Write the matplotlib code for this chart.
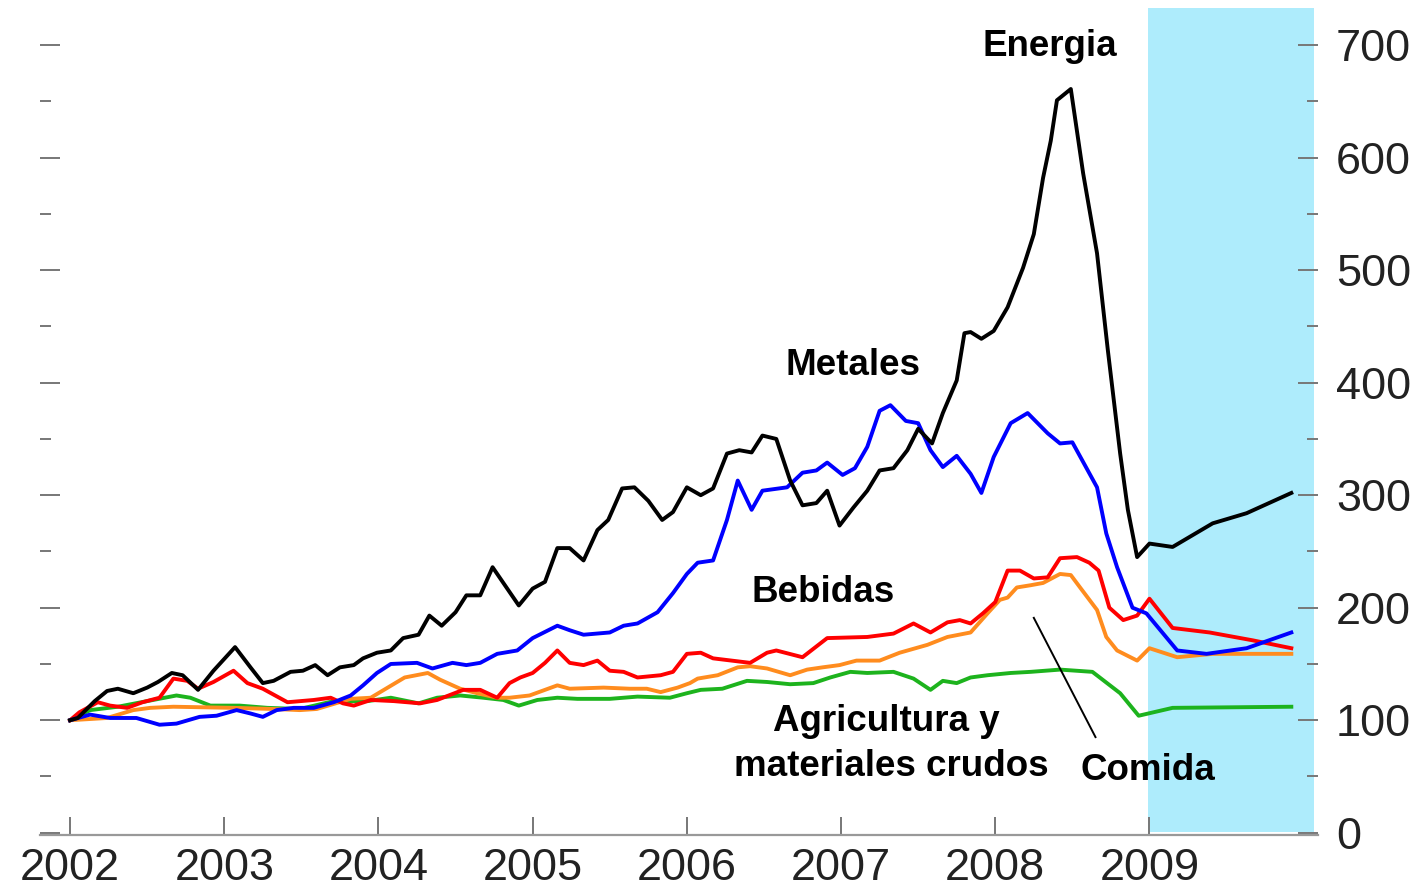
import numpy as np
import matplotlib
matplotlib.use("Agg")
import matplotlib.pyplot as plt
from matplotlib.ticker import MultipleLocator

# Indices de precios de materias primas (2002 = 100)
energia_t = [2002.00, 2002.05, 2002.16, 2002.24, 2002.31, 2002.41, 2002.50, 2002.57, 2002.66, 2002.73,
             2002.83, 2002.93, 2003.07, 2003.17, 2003.25, 2003.32, 2003.43, 2003.51, 2003.59, 2003.67,
             2003.75, 2003.84, 2003.90, 2003.99, 2004.08, 2004.16, 2004.26, 2004.33, 2004.41, 2004.50,
             2004.57, 2004.66, 2004.74, 2004.83, 2004.91, 2005.00, 2005.08, 2005.16, 2005.24, 2005.33,
             2005.42, 2005.49, 2005.58, 2005.66, 2005.75, 2005.84, 2005.91, 2006.00, 2006.09, 2006.17,
             2006.26, 2006.34, 2006.42, 2006.49, 2006.58, 2006.67, 2006.75, 2006.84, 2006.91, 2006.99,
             2007.08, 2007.17, 2007.25, 2007.34, 2007.43, 2007.50, 2007.59, 2007.66, 2007.75, 2007.80,
             2007.84, 2007.91, 2007.99, 2008.08, 2008.18, 2008.25, 2008.31, 2008.36, 2008.40, 2008.49,
             2008.57, 2008.66, 2008.73, 2008.81, 2008.86, 2008.92, 2009.00, 2009.15, 2009.41, 2009.63,
             2009.92]
energia_v = [100, 102, 117, 126, 128, 124, 129, 134, 142, 140,
             127, 144, 165, 147, 133, 135, 143, 144, 149, 140,
             147, 149, 155, 160, 162, 173, 176, 193, 184, 196,
             211, 211, 236, 218, 202, 217, 223, 253, 253, 242,
             269, 278, 306, 307, 295, 278, 285, 307, 300, 306,
             337, 340, 338, 353, 350, 313, 291, 293, 304, 273,
             289, 304, 322, 324, 340, 359, 346, 373, 402, 444,
             445, 439, 446, 467, 502, 532, 582, 615, 651, 661,
             586, 515, 429, 337, 287, 245, 257, 254, 275, 284,
             302]

metales_t = [2002.00, 2002.13, 2002.26, 2002.43, 2002.58, 2002.69, 2002.84, 2002.95, 2003.08, 2003.17,
             2003.25, 2003.34, 2003.45, 2003.58, 2003.71, 2003.82, 2003.90, 2003.99, 2004.08, 2004.25,
             2004.35, 2004.48, 2004.57, 2004.66, 2004.77, 2004.90, 2005.00, 2005.16, 2005.24, 2005.33,
             2005.50, 2005.59, 2005.68, 2005.81, 2005.91, 2006.00, 2006.07, 2006.17, 2006.26, 2006.33,
             2006.42, 2006.49, 2006.65, 2006.75, 2006.84, 2006.91, 2007.01, 2007.09, 2007.17, 2007.25,
             2007.32, 2007.42, 2007.50, 2007.58, 2007.66, 2007.75, 2007.84, 2007.91, 2007.99, 2008.10,
             2008.21, 2008.34, 2008.42, 2008.50, 2008.66, 2008.72, 2008.79, 2008.89, 2008.98, 2009.18,
             2009.37, 2009.63, 2009.92]
metales_v = [100, 105, 102, 102, 96, 97, 103, 104, 109, 106,
             103, 109, 111, 111, 116, 122, 131, 142, 150, 151,
             146, 151, 149, 151, 159, 162, 173, 184, 180, 176,
             178, 184, 186, 196, 213, 230, 240, 242, 278, 313,
             287, 304, 307, 320, 322, 329, 318, 324, 343, 375,
             380, 366, 364, 340, 325, 335, 319, 302, 334, 364,
             373, 355, 346, 347, 307, 266, 236, 200, 195, 162,
             159, 164, 178]

bebidas_t = [2002.00, 2002.06, 2002.18, 2002.26, 2002.37, 2002.47, 2002.58, 2002.67, 2002.76, 2002.83,
             2002.93, 2003.06, 2003.15, 2003.25, 2003.41, 2003.58, 2003.69, 2003.77, 2003.84, 2003.95,
             2004.10, 2004.27, 2004.38, 2004.55, 2004.66, 2004.77, 2004.85, 2004.92, 2005.00, 2005.08,
             2005.16, 2005.24, 2005.33, 2005.42, 2005.50, 2005.59, 2005.68, 2005.83, 2005.91, 2006.00,
             2006.09, 2006.17, 2006.41, 2006.52, 2006.58, 2006.75, 2006.91, 2007.17, 2007.34, 2007.47,
             2007.58, 2007.69, 2007.77, 2007.84, 2007.92, 2008.00, 2008.08, 2008.16, 2008.25, 2008.34,
             2008.42, 2008.53, 2008.61, 2008.67, 2008.74, 2008.83, 2008.92, 2009.00, 2009.15, 2009.39,
             2009.67, 2009.92]
bebidas_v = [100, 107, 116, 113, 111, 116, 120, 137, 135, 128,
             134, 144, 133, 128, 116, 118, 120, 115, 113, 118,
             117, 115, 118, 127, 127, 120, 133, 138, 142, 151,
             162, 151, 149, 153, 144, 143, 138, 140, 143, 159,
             160, 155, 151, 160, 162, 156, 173, 174, 177, 186,
             178, 187, 189, 186, 195, 205, 233, 233, 226, 227,
             244, 245, 240, 233, 200, 189, 193, 208, 182, 178,
             171, 164]

comida_t = [2002.00, 2002.24, 2002.41, 2002.52, 2002.67, 2003.06, 2003.32, 2003.49, 2003.60, 2003.82,
            2003.95, 2004.06, 2004.17, 2004.32, 2004.40, 2004.53, 2004.64, 2004.77, 2004.85, 2004.98,
            2005.16, 2005.24, 2005.46, 2005.63, 2005.74, 2005.83, 2005.94, 2006.02, 2006.07, 2006.20,
            2006.33, 2006.41, 2006.52, 2006.67, 2006.78, 2006.88, 2006.99, 2007.10, 2007.25, 2007.38,
            2007.56, 2007.69, 2007.84, 2007.95, 2008.03, 2008.08, 2008.14, 2008.23, 2008.31, 2008.42,
            2008.49, 2008.55, 2008.66, 2008.72, 2008.79, 2008.92, 2009.00, 2009.18, 2009.41, 2009.92]
comida_v = [100, 102, 109, 111, 112, 111, 110, 109, 110, 119,
            120, 129, 138, 142, 136, 128, 124, 120, 120, 122,
            131, 128, 129, 128, 128, 125, 129, 133, 137, 140,
            147, 148, 146, 140, 145, 147, 149, 153, 153, 160,
            167, 174, 178, 195, 207, 209, 218, 220, 222, 230,
            229, 218, 198, 174, 162, 153, 164, 156, 159, 159]

agri_t = [2002.00, 2002.13, 2002.31, 2002.50, 2002.69, 2002.78, 2002.91, 2003.10, 2003.28, 2003.49,
          2003.71, 2003.93, 2004.08, 2004.26, 2004.38, 2004.53, 2004.68, 2004.81, 2004.91, 2005.03,
          2005.16, 2005.29, 2005.50, 2005.68, 2005.89, 2006.00, 2006.09, 2006.23, 2006.39, 2006.52,
          2006.67, 2006.82, 2006.93, 2007.06, 2007.17, 2007.34, 2007.47, 2007.58, 2007.66, 2007.75,
          2007.84, 2007.95, 2008.10, 2008.23, 2008.42, 2008.63, 2008.81, 2008.93, 2009.15, 2009.92]
agri_v = [100, 109, 112, 117, 122, 120, 113, 113, 111, 110,
          117, 117, 120, 115, 120, 122, 120, 118, 113, 118,
          120, 119, 119, 121, 120, 124, 127, 128, 135, 134,
          132, 133, 138, 143, 142, 143, 137, 127, 135, 133,
          138, 140, 142, 143, 145, 143, 124, 104, 111, 112]

anios = [2002, 2003, 2004, 2005, 2006, 2007, 2008, 2009]
recesion = (2008.99, 2010.07)

plt.rcParams['font.family'] = ['Liberation Sans', 'DejaVu Sans']

fig = plt.figure(figsize=(14.28, 8.91), dpi=100)
ax = fig.add_axes([40/1428, 56/891, 1278/1428, 827/891])

ax.axvspan(recesion[0], recesion[1], ymin=0.004, ymax=1, color='#aeecfc', lw=0, zorder=0)

lw = 2.8
ax.plot(agri_t, agri_v, color='#1db31d', lw=lw, solid_joinstyle='round')
ax.plot(comida_t, comida_v, color='#ff8c1e', lw=lw, solid_joinstyle='round')
ax.plot(bebidas_t, bebidas_v, color='#ff0000', lw=lw, solid_joinstyle='round')
ax.plot(metales_t, metales_v, color='#0000ff', lw=lw, solid_joinstyle='round')
ax.plot(energia_t, energia_v, color='black', lw=lw, solid_joinstyle='round')

# linea que senala la serie de comida
ax.plot([2008.25, 2008.65], [191, 85], color='black', lw=1.4)

etiq = dict(fontsize=26.5, fontweight='bold', ha='center', va='baseline')
ax.text(2008.355, 690, 'Energia', **etiq)
ax.text(2007.078, 406.5, 'Metales', **etiq)
ax.text(2006.883, 205, 'Bebidas', **etiq)
ax.text(2007.292, 90, 'Agricultura y', **etiq)
ax.text(2007.324, 50, 'materiales crudos', **etiq)
ax.text(2008.991, 46.5, 'Comida', **etiq)

ax.set_xlim(2001.805, 2010.093)
ax.set_ylim(-2, 733)

for s in ['left', 'right', 'top']:
    ax.spines[s].set_visible(False)
ax.spines['bottom'].set_color('#999999')
ax.spines['bottom'].set_linewidth(1.6)

ax.set_xticks(anios)
ax.set_xticklabels([str(a) for a in anios])
ax.yaxis.set_major_locator(MultipleLocator(100))
ax.yaxis.set_minor_locator(MultipleLocator(50))
ax.yaxis.set_ticks_position('both')

gris = '#777777'
ax.tick_params(axis='x', direction='in', length=13, width=1.4, color=gris,
               labelsize=32.5, labelcolor='#222222', pad=9)
ax.tick_params(axis='y', which='major', direction='in', length=14.5, width=1.4, color=gris,
               labelsize=32.5, labelcolor='#222222', labelleft=False, labelright=True, pad=13)
ax.tick_params(axis='y', which='minor', direction='in', length=8, width=1.4, color=gris)

fig.savefig('out.png', dpi=100)
